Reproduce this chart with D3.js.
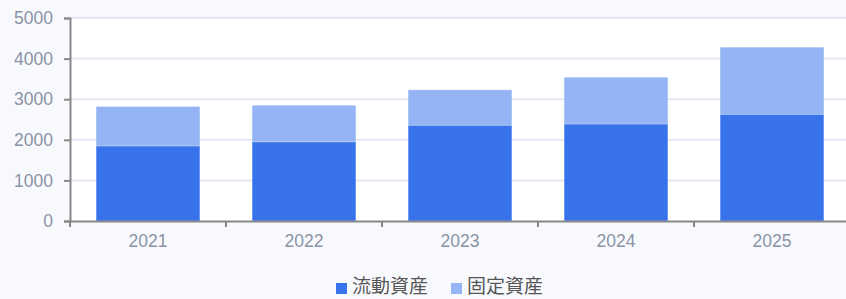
<!DOCTYPE html>
<html>
<head>
<meta charset="utf-8">
<script src="https://cdn.jsdelivr.net/npm/d3@7"></script>
<style>
  body { margin: 0; background: #f8f9fc; }
  svg { display: block; font-family: "Liberation Sans", Arial, sans-serif; }
</style>
</head>
<body>
<div id="chart"></div>
<script>
const years = ['2021', '2022', '2023', '2024', '2025'];
const currentAssets = [1850, 1950, 2360, 2390, 2630];
const fixedAssets = [970, 900, 870, 1150, 1650];
const yTicks = [0, 1000, 2000, 3000, 4000, 5000];
const seriesNames = ['流動資産', '固定資産'];
const colors = ['#3873ec', '#94b4f5'];

const width = 846, height = 299;
const margin = { top: 18, right: -4, bottom: 78, left: 70 };

const svg = d3.select('#chart').append('svg')
    .attr('width', width)
    .attr('height', height);

const x = d3.scaleBand()
    .domain(years)
    .range([margin.left, width - margin.right])
    .padding(0);

const y = d3.scaleLinear()
    .domain([0, 5000])
    .range([height - margin.bottom, margin.top]);

// plot background
svg.append('rect')
    .attr('x', margin.left)
    .attr('y', margin.top)
    .attr('width', width - margin.left)
    .attr('height', y(0) - margin.top)
    .attr('fill', '#fff');

// grid lines
svg.append('g')
    .selectAll('line')
    .data(yTicks.slice(1))
    .join('line')
    .attr('x1', margin.left)
    .attr('x2', width)
    .attr('y1', d => y(d))
    .attr('y2', d => y(d))
    .attr('stroke', '#e3e7f0')
    .attr('stroke-width', 2);

// stacked bars
const stackData = years.map((yr, i) => ({ year: yr, current: currentAssets[i], fixed: fixedAssets[i] }));
const series = d3.stack().keys(['current', 'fixed'])(stackData);
const barW = x.bandwidth() * 0.665;

svg.append('g')
    .selectAll('g')
    .data(series)
    .join('g')
    .attr('fill', (d, i) => colors[i])
    .selectAll('rect')
    .data(d => d)
    .join('rect')
    .attr('x', d => x(d.data.year) + (x.bandwidth() - barW) / 2)
    .attr('y', d => y(d[1]))
    .attr('width', barW)
    .attr('height', d => y(d[0]) - y(d[1]))
    .attr('stroke', 'rgba(255,255,255,0.25)')
    .attr('stroke-width', 1);

// y axis
const yAxis = svg.append('g')
    .attr('transform', `translate(${margin.left},0)`)
    .call(d3.axisLeft(y).tickValues(yTicks).tickSize(6).tickPadding(11).tickFormat(d3.format('d')));
yAxis.select('.domain').attr('stroke', '#888').attr('stroke-width', 2);
yAxis.selectAll('.tick line').attr('stroke', '#888').attr('stroke-width', 2);
yAxis.selectAll('.tick text').attr('fill', '#8a93a6').attr('font-size', 17.5);

// x axis
const xAxis = svg.append('g')
    .attr('transform', `translate(0,${y(0)})`)
    .call(d3.axisBottom(x).tickSize(0).tickPadding(14));
xAxis.select('.domain').attr('stroke', '#888').attr('stroke-width', 2);
xAxis.selectAll('.tick text').attr('fill', '#8a93a6').attr('font-size', 17.5);
// boundary ticks
xAxis.append('g')
    .selectAll('line')
    .data(years)
    .join('line')
    .attr('x1', d => x(d))
    .attr('x2', d => x(d))
    .attr('y1', 0)
    .attr('y2', 6)
    .attr('stroke', '#888')
    .attr('stroke-width', 2);

// legend
const legend = svg.append('g')
    .attr('transform', 'translate(336,287)');
const items = legend.selectAll('g')
    .data(seriesNames)
    .join('g')
    .attr('transform', (d, i) => `translate(${i * 115},0)`);
items.append('rect')
    .attr('x', 0)
    .attr('y', -4)
    .attr('width', 11)
    .attr('height', 11)
    .attr('fill', (d, i) => colors[i]);
items.append('text')
    .attr('x', 16)
    .attr('y', 0)
    .attr('dy', '0.33em')
    .attr('fill', '#555')
    .style('font-family', '"Noto Sans CJK JP", sans-serif')
    .attr('font-size', 19)
    .text(d => d);
</script>
</body>
</html>
